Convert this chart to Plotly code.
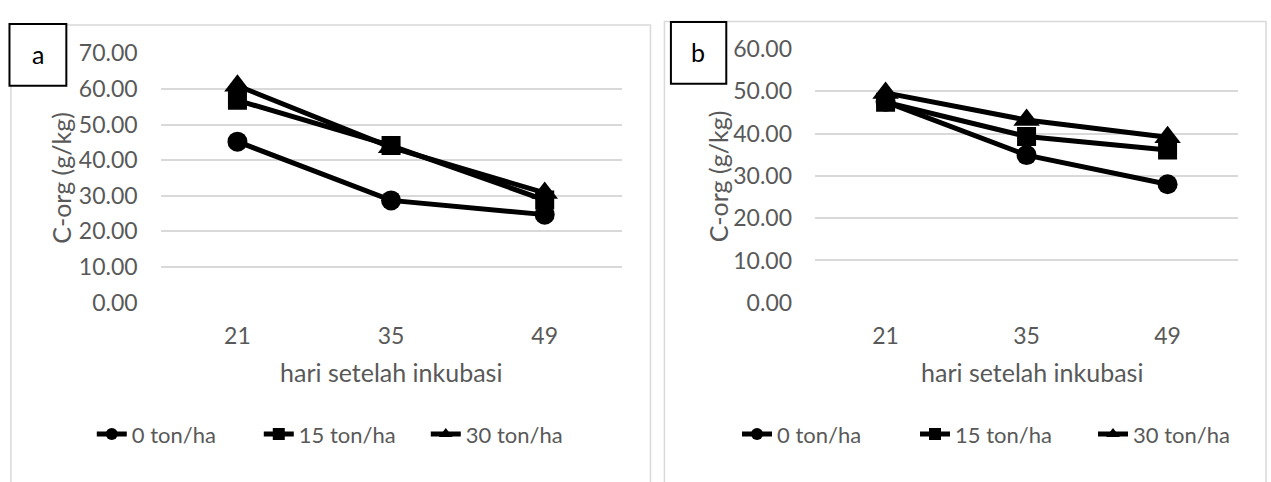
import plotly.graph_objects as go

# Incubation days (category axis)
days = ["21", "35", "49"]

# C-org (g/kg), panel a
a_0 = [45.2, 28.7, 24.7]
a_15 = [56.8, 44.1, 28.8]
a_30 = [60.9, 43.6, 30.8]

# C-org (g/kg), panel b
b_0 = [47.5, 34.9, 28.0]
b_15 = [47.4, 39.3, 36.1]
b_30 = [49.6, 43.2, 39.1]

series_names = ["0 ton/ha", "15 ton/ha", "30 ton/ha"]
y_ticks_a = [0, 10, 20, 30, 40, 50, 60, 70]
y_ticks_b = [0, 10, 20, 30, 40, 50, 60]

W, H = 1271, 482
FONT = "Lato"
GREY_TXT = "#595959"
GRID = "#d9d9d9"


def fx(x):
    return x / W


def fy(y):
    return 1 - y / H


symbols = ["circle", "square", "triangle-up"]
sizes = [20, 19, 23]

fig = go.Figure()
panels = [
    ("x", "y", "legend", [a_0, a_15, a_30]),
    ("x2", "y2", "legend2", [b_0, b_15, b_30]),
]
for xa, ya, leg, data in panels:
    for name, vals, sym, sz in zip(series_names, data, symbols, sizes):
        fig.add_trace(go.Scatter(
            x=days, y=vals, xaxis=xa, yaxis=ya, legend=leg,
            name=name, mode="lines+markers",
            line=dict(color="black", width=5),
            marker=dict(symbol=sym, size=sz, color="black"),
        ))

tickfont = dict(family=FONT, size=23, color=GREY_TXT)

xcommon = dict(type="category", range=[-0.5, 2.5], showgrid=False, showline=False,
               zeroline=False, ticks="", tickfont=tickfont, ticklabelstandoff=17,
               fixedrange=True)
ycommon = dict(showgrid=True, gridcolor=GRID, gridwidth=1.5, zeroline=False,
               showline=False, ticks="", tickformat=".2f", tickfont=tickfont,
               ticklabelstandoff=22, fixedrange=True)

legfont = dict(family=FONT, size=22, color=GREY_TXT)

fig.update_layout(
    width=W, height=H,
    margin=dict(l=0, r=0, t=0, b=0),
    paper_bgcolor="white", plot_bgcolor="white",
    font=dict(family=FONT, color=GREY_TXT),
    xaxis=dict(domain=[fx(161), fx(623)], anchor="y", **xcommon),
    yaxis=dict(domain=[fy(305.3), fy(40.7)], anchor="x", range=[0, 70],
               tickvals=y_ticks_a, **ycommon),
    xaxis2=dict(domain=[fx(817), fx(1241)], anchor="y2", **xcommon),
    yaxis2=dict(domain=[fy(305.5), fy(36)], anchor="x2", range=[0, 60],
                tickvals=y_ticks_b, **ycommon),
    legend=dict(orientation="h", x=fx(92), xanchor="left", y=fy(445),
                yanchor="middle", font=legfont, entrywidth=122,
                itemsizing="constant", bgcolor="rgba(0,0,0,0)"),
    legend2=dict(orientation="h", x=fx(739), xanchor="left", y=fy(445),
                 yanchor="middle", font=legfont, entrywidth=133,
                 itemsizing="constant", bgcolor="rgba(0,0,0,0)"),
    showlegend=True,
)

# Chart-area frames and panel letter boxes
fig.add_shape(type="rect", xref="paper", yref="paper",
              x0=fx(11), x1=fx(652), y0=-0.1, y1=fy(10.5),
              line=dict(color=GRID, width=1.5), fillcolor="rgba(0,0,0,0)", layer="below")
fig.add_shape(type="rect", xref="paper", yref="paper",
              x0=fx(666), x1=fx(1269), y0=-0.1, y1=fy(7),
              line=dict(color=GRID, width=1.5), fillcolor="rgba(0,0,0,0)", layer="below")
fig.add_shape(type="rect", xref="paper", yref="paper",
              x0=fx(9.5), x1=fx(66.5), y0=fy(75), y1=fy(9.5),
              line=dict(color="black", width=2), fillcolor="white")
fig.add_shape(type="rect", xref="paper", yref="paper",
              x0=fx(672.5), x1=fx(728), y0=fy(73), y1=fy(7.5),
              line=dict(color="black", width=2), fillcolor="white")

annos = [
    dict(text="a", x=fx(38), y=fy(41), font=dict(size=25, color="black")),
    dict(text="b", x=fx(700), y=fy(39), font=dict(size=25, color="black")),
    dict(text="hari setelah inkubasi", x=fx(392), y=fy(379), font=dict(size=25)),
    dict(text="hari setelah inkubasi", x=fx(1034), y=fy(379), font=dict(size=25)),
    dict(text="C-org (g/kg)", x=fx(61), y=fy(173), textangle=-90, font=dict(size=25)),
    dict(text="C-org (g/kg)", x=fx(720), y=fy(171), textangle=-90, font=dict(size=25)),
]
for a in annos:
    a.setdefault("font", {})
    a["font"].setdefault("family", FONT)
    a["font"].setdefault("color", GREY_TXT)
    fig.add_annotation(xref="paper", yref="paper", xanchor="center",
                       yanchor="middle", showarrow=False, **a)

fig.write_html("out.html")
